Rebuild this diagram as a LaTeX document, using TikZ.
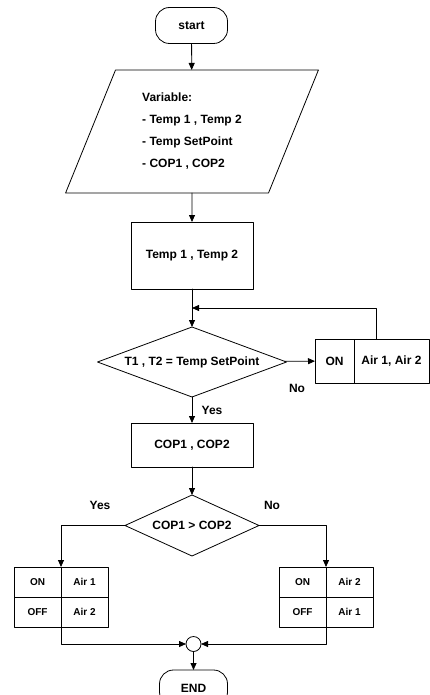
\documentclass[tikz,border=0pt]{standalone}
\usepackage{fontspec}
\setmainfont{Liberation Sans}
\usetikzlibrary{shapes.geometric,arrows.meta,positioning}
\begin{document}
\begin{tikzpicture}[x=1pt,y=-1pt,line cap=round,line join=round,
  font=\bfseries\fontsize{12}{14}\selectfont,
  every node/.style={inner sep=0pt,outer sep=0pt},
  box/.style={draw,line width=0.8pt,rectangle},
  term/.style={box,rounded corners=14pt,minimum width=68pt,minimum height=36pt},
  io/.style={draw,line width=0.8pt,trapezium,trapezium stretches=true,
    trapezium left angle=67,trapezium right angle=113},
  dec/.style={draw,line width=0.8pt,diamond},
  cell/.style={box,minimum width=47pt,minimum height=30pt,font=\bfseries\fontsize{10}{12}\selectfont},
  flow/.style={line width=0.8pt,-{Triangle[length=7pt,width=6pt]}}]
  \clip (0,0) rectangle (430,695);
  \node[term,minimum width=72pt] (start) at (191.5,25.5) {start};
  \node[io,minimum width=253pt,minimum height=123pt,align=left,
    font=\bfseries\fontsize{12}{22}\selectfont] (var) at (192,131.5)
    {Variable:\\- Temp 1 , Temp 2\\- Temp SetPoint\\- COP1 , COP2};
  \node[box,minimum width=122pt,minimum height=67pt] (temp) at (192,255.5) {Temp 1 , Temp 2};
  \node[dec,minimum width=189pt,minimum height=70pt,aspect=2.7] (chk) at (192,362) {T1 , T2 = Temp SetPoint};
  \node[box,minimum width=39pt,minimum height=44pt] (on) at (334.5,361) {ON};
  \node[box,minimum width=75pt,minimum height=44pt,right=0pt of on] (airs) {Air 1, Air 2};
  \node[box,minimum width=122pt,minimum height=44pt] (cop) at (192,445) {COP1 , COP2};
  \node[dec,minimum width=134pt,minimum height=61pt,aspect=2.2] (cmp) at (192,525.5) {COP1 > COP2};
  % left table
  \node[cell] (lon) at (37.5,582) {ON};
  \node[cell,right=0pt of lon] (lair) {Air 1};
  \node[cell,below=0pt of lon] (loff) {OFF};
  \node[cell,right=0pt of loff] (lair2) {Air 2};
  % right table
  \node[cell] (ron) at (302.5,582) {ON};
  \node[cell,right=0pt of ron] (rair) {Air 2};
  \node[cell,below=0pt of ron] (roff) {OFF};
  \node[cell,right=0pt of roff] (rair2) {Air 1};
  \node[draw,line width=0.8pt,circle,minimum size=15pt] (join) at (193.5,644) {};
  \node[term] (end) at (193.5,688) {END};
  % labels
  \node (no1) at (297,388) {No};
  \node (yes1) at (212,410) {Yes};
  \node (yes2) at (100,505) {Yes};
  \node (no2) at (272,505) {No};
  % connectors
  \coordinate (back) at (376,308);
  \draw[flow] (start) -- (var);
  \draw[flow] (var) -- (temp);
  \draw[flow] (temp) -- (chk);
  \draw[flow] (chk) -- (on);
  \draw[flow] (airs.north -| back) -- (back) -- (back -| chk.north);
  \draw[flow] (chk) -- (cop);
  \draw[flow] (cop) -- (cmp);
  \draw[flow] (cmp.west) -| (lon.north east);
  \draw[flow] (cmp.east) -| (ron.north east);
  \draw[flow] (loff.south east) |- (join.west);
  \draw[flow] (roff.south east) |- (join.east);
  \draw[flow] (join) -- (end);
\end{tikzpicture}
\end{document}
